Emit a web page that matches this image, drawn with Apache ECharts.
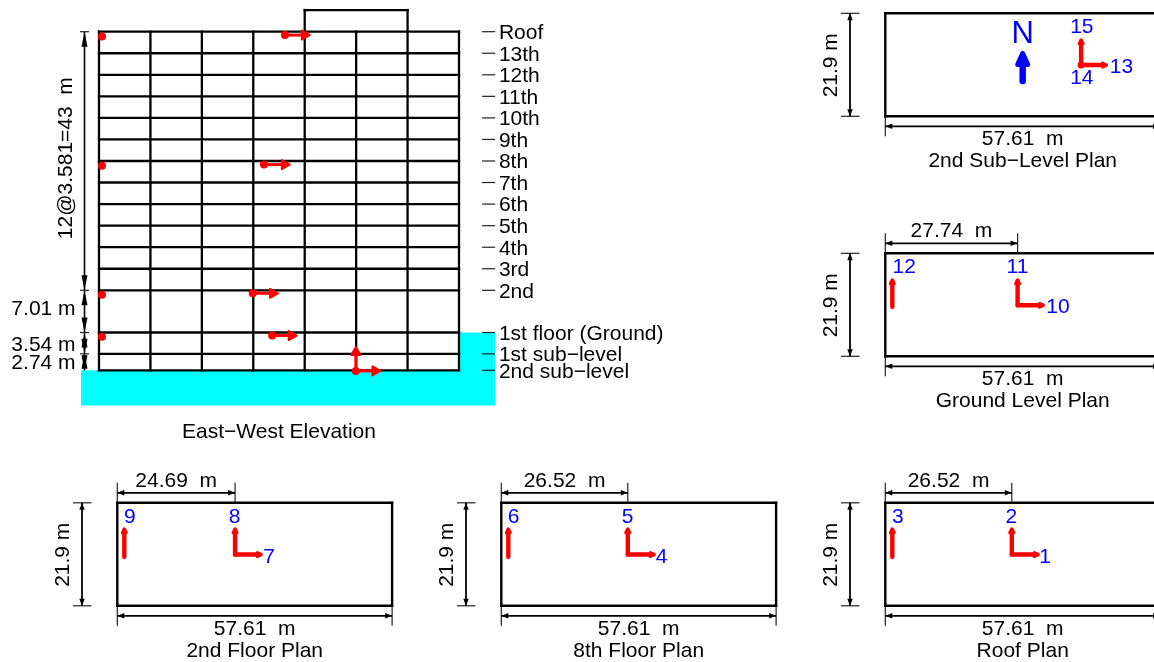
<!DOCTYPE html>
<html>
<head>
<meta charset="utf-8">
<style>html,body{margin:0;padding:0;background:#fff;overflow:hidden}#c{width:1154px;height:662px}</style>
<script src="https://cdn.jsdelivr.net/npm/echarts@6/dist/echarts.min.js"></script>
</head>
<body>
<div id="c"></div>
<script>
// ---------- elevation data (metres) ----------
const floorNames = ['2nd sub−level','1st sub−level','1st floor (Ground)','2nd','3rd','4th','5th','6th','7th','8th','9th','10th','11th','12th','13th','Roof'];
const floorLevels = [0,2.74,6.28,13.29,16.87,20.45,24.03,27.62,31.20,34.78,38.36,41.94,45.52,49.10,52.68,56.26];
const columnLines = [0,8.23,16.46,24.69,32.92,41.15,49.38,57.61];
const penthouseTop = 59.86;
const penthouseLines = [32.92,49.38];
const groundOutline = [[-2.88,0],[57.61,0],[57.61,6.28],[63.36,6.28],[63.36,-5.86],[-2.88,-5.86]];
const elevationDots = [[0.48,55.45],[0.48,34.0],[0.48,12.55],[0.48,5.58],[29.76,55.7],[26.4,34.18],[24.6,12.8],[27.7,5.77],[41.1,-0.1]];
const elevationArrows = [[29.76,55.7,33.9,55.7],[26.4,34.18,30.7,34.18],[24.6,12.8,28.8,12.8],[27.7,5.77,31.8,5.77],[41.1,-0.1,45.2,-0.1],[41.1,-0.1,41.1,4.05]];
const elevationDims = [[-2.32,13.29,-2.32,56.26],[-2.32,6.28,-2.32,13.29],[-2.32,2.74,-2.32,6.28],[-2.32,0,-2.32,2.74]];
const elevationRotatedLabel = ['12@3.581=43  m',-5.2,35.25,90];
const elevationDimLabels = [['7.01 m',-3.75,10.1],['3.54 m',-3.75,4.2],['2.74 m',-3.75,1.15]];

// ---------- plan data (metres) ----------
const planLength = 57.61;
const planDepth = 21.9;
const planNames = ['2nd Floor Plan','8th Floor Plan','Roof Plan','Ground Level Plan','2nd Sub−Level Plan'];
const planOffsets = [24.69,26.52,26.52,27.74,null];
const planSensorArrows = [
  [[1.47,10.4,1.47,16.7],[24.69,10.9,24.69,16.7],[24.69,10.9,30.5,10.9]],
  [[1.47,10.4,1.47,16.7],[26.52,10.9,26.52,16.7],[26.52,10.9,32.4,10.9]],
  [[1.47,10.4,1.47,16.7],[26.52,10.9,26.52,16.7],[26.52,10.9,32.4,10.9]],
  [[1.47,10.5,1.47,16.6],[27.74,10.85,27.74,16.6],[27.74,10.85,33.5,10.85]],
  [[41.05,10.9,41.05,16.6],[41.05,10.9,46.7,10.9]]
];
const planSensorLabels = [
  [['9',2.65,18.9],['8',24.6,18.9],['7',31.8,10.4]],
  [['6',2.6,18.9],['5',26.45,18.9],['4',33.6,10.4]],
  [['3',2.65,18.9],['2',26.4,18.9],['1',33.5,10.4]],
  [['12',3.95,18.9],['11',27.7,18.9],['10',36.2,10.4]],
  [['15',41.2,18.9],['14',41.2,8.1],['13',49.5,10.5]]
];
const northArrow = [28.8,7.5,28.8,13.9];
const northLabel = ['N',28.8,17.3];
const sublevelDot = [[41.05,10.9]];

// ---------- layout (pixels) ----------
const planBoxes = [[117.3,502.8],[501.3,502.8],[885.3,502.8],[885.3,253.3],[885.3,13.3]];
const planW = 274.8, planH = 103;
const FONT = '"Liberation Sans", Arial, sans-serif';
const BLUE = '#0000ff', RED = '#ff0000';

function segs(gridIndex, rows, o){
  return {
    type:'custom', coordinateSystem:'cartesian2d', xAxisIndex:gridIndex, yAxisIndex:gridIndex,
    silent:true, animation:false, clip:false, z:o.z||5,
    encode:{x:[0,2],y:[1,3]},
    data:rows,
    renderItem:function(params,api){
      const a=api.coord([api.value(0),api.value(1)]);
      const b=api.coord([api.value(2),api.value(3)]);
      const dx=b[0]-a[0],dy=b[1]-a[1],L=Math.hypot(dx,dy)||1,ux=dx/L,uy=dy/L;
      const kids=[];
      const hs=o.hs||0;
      const head=function(t0,dirx,diry){
        const t=[t0[0]-dirx*hs/2,t0[1]-diry*hs/2];
        const bx=t[0]-dirx*o.hl, by=t[1]-diry*o.hl, nx=-diry*o.hw/2, ny=dirx*o.hw/2;
        kids.push({type:'polygon',shape:{points:[t,[bx+nx,by+ny],[bx-nx,by-ny]]},
          style:{fill:o.color,stroke:hs?o.color:null,lineWidth:hs,lineJoin:'round'}});
      };
      let q=b.slice();
      if(o.heads==='end'){q=[b[0]-ux*o.hl*0.8,b[1]-uy*o.hl*0.8];}
      kids.push({type:'line',shape:{x1:a[0],y1:a[1],x2:q[0],y2:q[1]},
        style:{stroke:o.color,lineWidth:o.width,lineCap:o.cap||'butt',fill:null}});
      if(o.heads==='end') head(b,ux,uy);
      if(o.heads==='both'){head(b,ux,uy);head(a,-ux,-uy);}
      return {type:'group',children:kids};
    }
  };
}
function texts(gridIndex, rows, o){
  // rows: [text, x, y, rotationDeg]
  return {
    type:'custom', coordinateSystem:'cartesian2d', xAxisIndex:gridIndex, yAxisIndex:gridIndex,
    silent:true, animation:false, clip:false, z:o.z||10,
    encode:{x:0,y:1},
    data:rows.map(r=>[r[1],r[2]]),
    renderItem:function(params,api){
      const c=api.coord([api.value(0),api.value(1)]);
      const r=rows[params.dataIndex];
      return {type:'text',x:c[0],y:c[1],rotation:(r[3]||0)*Math.PI/180,
        style:{text:r[0],fill:o.color||'#000',font:(o.size||21)+'px '+FONT,
          textAlign:o.align||'center',textVerticalAlign:'middle'}};
    }
  };
}

const roofLevel = floorLevels[floorLevels.length-1];
const grids=[{left:99,top:31.7,width:360,height:338.6,outerBoundsMode:'none',containLabel:false}];
const xAxes=[{type:'value',gridIndex:0,min:0,max:planLength,show:false}];
const yAxes=[{type:'value',gridIndex:0,min:0,max:roofLevel,show:false}];
const series=[];

// ---------- elevation ----------
series.push({type:'custom',coordinateSystem:'cartesian2d',xAxisIndex:0,yAxisIndex:0,silent:true,animation:false,clip:false,z:1,
  data:[groundOutline[0]],
  renderItem:function(p,api){return {type:'polygon',shape:{points:groundOutline.map(g=>api.coord(g))},style:{fill:'#00ffff'}};}});
series.push(segs(0,floorLevels.map(y=>[0,y,planLength,y]),{color:'#000',width:2.3,cap:'square',z:3}));
series.push(segs(0,columnLines.map(x=>[x,0,x,roofLevel]),{color:'#000',width:2.3,cap:'square',z:3}));
series.push(segs(0,penthouseLines.map(x=>[x,roofLevel,x,penthouseTop]).concat([[penthouseLines[0],penthouseTop,penthouseLines[1],penthouseTop]]),{color:'#000',width:2.3,cap:'square',z:3}));
series.push(segs(0,floorLevels.map(y=>[61.3,y,63.4,y]),{color:'#222',width:1.2,z:4}));
series.push(texts(0,floorNames.map((n,i)=>[n,64,floorLevels[i]-0.25]),{align:'left',z:10}));
series.push(segs(0,elevationDims,{color:'#000',width:1.6,heads:'both',hl:15,hw:6,z:5}));
series.push(segs(0,[56.26,13.29,6.28,2.74].map(y=>[-3.04,y,-1.6,y]),{color:'#222',width:1.2,z:5}));
series.push(texts(0,[elevationRotatedLabel],{}));
series.push(texts(0,elevationDimLabels,{align:'right'}));
series.push(texts(0,[['East−West Elevation',28.8,-10.3]],{}));
series.push(segs(0,elevationArrows,{color:RED,width:3,heads:'end',hl:8,hw:9,hs:2,z:7}));
series.push({type:'scatter',xAxisIndex:0,yAxisIndex:0,silent:true,animation:false,clip:false,z:8,
  data:elevationDots,symbol:'circle',symbolSize:8,itemStyle:{color:RED,opacity:1}});

// ---------- plans ----------
planNames.forEach(function(name,i){
  const g=i+1,box=planBoxes[i],off=planOffsets[i];
  grids.push({left:box[0],top:box[1],width:planW,height:planH,outerBoundsMode:'none',containLabel:false});
  xAxes.push({type:'value',gridIndex:g,min:0,max:planLength,show:false});
  yAxes.push({type:'value',gridIndex:g,min:0,max:planDepth,show:false});
  series.push(segs(g,[[0,0,planLength,0],[planLength,0,planLength,planDepth],[planLength,planDepth,0,planDepth],[0,planDepth,0,0]],{color:'#000',width:2.4,cap:'square',z:3}));
  const thin=[[0,0,0,-4.25],[planLength,0,planLength,-4.25],[-9.3,0,-5.4,0],[-9.3,planDepth,-5.4,planDepth]];
  const dims=[[0,-2.13,planLength,-2.13],[-7.4,0,-7.4,planDepth]];
  const lab=[['57.61  m',planLength/2,-4.95],[name,planLength/2,-9.55],['21.9 m',-11.3,planDepth/2-0.1,90]];
  if(off!==null){
    thin.push([0,planDepth,0,26.15],[off,planDepth,off,26.15]);
    dims.push([0,24.03,off,24.03]);
    lab.push([off.toFixed(2)+'  m',off/2,26.55]);
  }
  series.push(segs(g,thin,{color:'#222',width:1.2,z:4}));
  series.push(segs(g,dims,{color:'#000',width:1.8,heads:'both',hl:7,hw:5.5,z:5}));
  series.push(texts(g,lab,{}));
  series.push(segs(g,planSensorArrows[i],{color:RED,width:4.4,cap:'round',heads:'end',hl:4,hw:4,hs:3,z:7}));
  series.push(texts(g,planSensorLabels[i],{color:BLUE,size:21,z:11}));
  if(i===4){
    series.push(segs(g,[northArrow],{color:BLUE,width:6.5,cap:'round',heads:'end',hl:11,hw:10,hs:5,z:7}));
    series.push(texts(g,[northLabel],{color:BLUE,size:31,z:11}));
    series.push({type:'scatter',xAxisIndex:g,yAxisIndex:g,silent:true,animation:false,clip:false,z:8,
      data:sublevelDot,symbol:'circle',symbolSize:7,itemStyle:{color:RED,opacity:1}});
  }
});

const chart=echarts.init(document.getElementById('c'),null,{renderer:'canvas'});
chart.setOption({animation:false,backgroundColor:'#fff',grid:grids,xAxis:xAxes,yAxis:yAxes,series:series});
</script>
</body>
</html>
